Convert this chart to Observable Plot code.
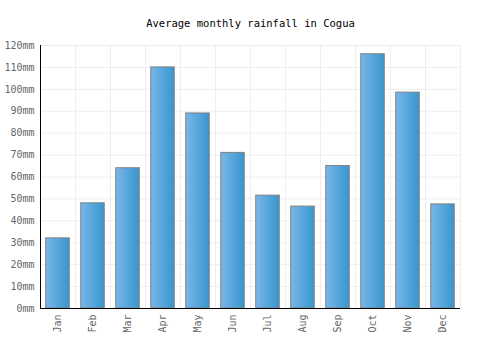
<!DOCTYPE html>
<html>
<head>
<meta charset="utf-8">
<script src="https://cdn.jsdelivr.net/npm/d3@7"></script>
<script src="https://cdn.jsdelivr.net/npm/@observablehq/plot@0.6"></script>
<style>
  html, body { margin: 0; padding: 0; background: #fff; }
</style>
</head>
<body>
<div id="chart"></div>
<script>
const title = "Average monthly rainfall in Cogua";
const months = ["Jan","Feb","Mar","Apr","May","Jun","Jul","Aug","Sep","Oct","Nov","Dec"];
const rainfall = [32, 48, 64, 110, 89, 71, 51.5, 46.5, 65, 116, 98.5, 47.5];
const yTicks = [0,10,20,30,40,50,60,70,80,90,100,110,120];

const data = months.map((m, i) => ({month: m, i, value: rainfall[i]}));
const colEdges = months.map((_, i) => i).concat([months.length]);
const colCenters = months.map((_, i) => i + 0.5);

const plot = Plot.plot({
  width: 500,
  height: 350,
  marginTop: 45,
  marginBottom: 42,
  marginLeft: 40,
  marginRight: 40,
  style: {fontFamily: "'DejaVu Sans Mono', monospace", fontSize: "10px", background: "#fff"},
  x: {domain: [0, months.length]},
  y: {domain: [0, 120]},
  marks: [
    Plot.gridX(colEdges, {stroke: "#eeeeee", strokeOpacity: 1}),
    Plot.gridY(yTicks, {stroke: "#eeeeee", strokeOpacity: 1}),
    Plot.rectY(data, {
      x1: "i",
      x2: d => d.i + 1,
      y: "value",
      insetLeft: 5.75,
      insetRight: 5.75,
      fill: "#4fa6dc",
      stroke: "#808080",
      strokeWidth: 1,
      className: "bars"
    }),
    Plot.axisY(yTicks, {
      tickSize: 0,
      tickPadding: 6,
      tickFormat: d => d + "mm",
      fill: "#666",
      fontSize: 10,
      label: null
    }),
    Plot.axisX(colCenters, {
      tickSize: 0,
      tickPadding: 6,
      tickRotate: -90,
      tickFormat: d => months[Math.floor(d)],
      fill: "#666",
      fontSize: 10,
      label: null
    }),
    Plot.ruleX([0], {stroke: "#000"}),
    Plot.ruleY([0], {stroke: "#000"}),
    Plot.text([title], {
      frameAnchor: "top",
      dy: -26,
      text: d => d,
      fill: "#000",
      fontSize: 10.5
    })
  ]
});

const svg = d3.select(plot);
svg.insert("defs", ":first-child").html(
  '<linearGradient id="barGrad" x1="0" y1="0" x2="1" y2="0">' +
  '<stop offset="0%" stop-color="#79b7ea"/>' +
  '<stop offset="100%" stop-color="#3796cd"/>' +
  '</linearGradient>'
);
svg.selectAll(".bars rect").attr("fill", "url(#barGrad)");
svg.selectAll("g.bars").attr("fill", "url(#barGrad)");

document.getElementById("chart").appendChild(plot);
</script>
</body>
</html>
